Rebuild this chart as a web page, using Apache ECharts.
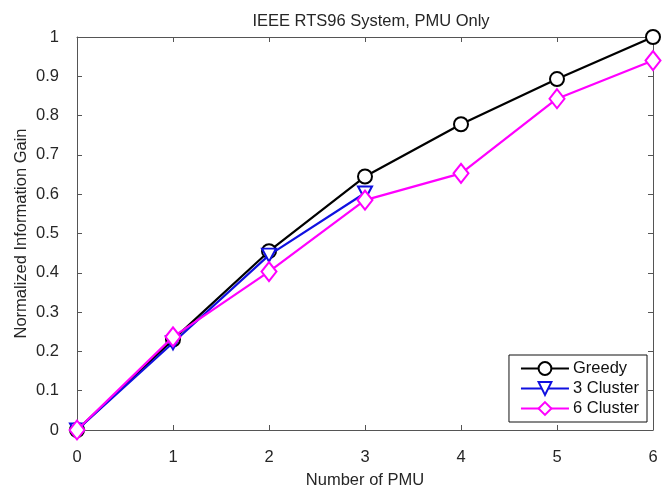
<!DOCTYPE html>
<html>
<head>
<meta charset="utf-8">
<script src="https://cdn.jsdelivr.net/npm/echarts@6/dist/echarts.min.js"></script>
<style>html,body{margin:0;padding:0;background:#fff}#c{width:669px;height:489px}</style>
</head>
<body>
<div id="c"></div>
<script>
const xValues = [0, 1, 2, 3, 4, 5, 6];
const greedy = [0, 0.23, 0.455, 0.645, 0.778, 0.893, 1.0];
const cluster3X = [0, 1, 2, 3];
const cluster3 = [0, 0.222, 0.445, 0.603];
const cluster6 = [0, 0.237, 0.403, 0.585, 0.653, 0.843, 0.94];
const titleText = 'IEEE RTS96 System, PMU Only';
const xName = 'Number of PMU';
const yName = 'Normalized Information Gain';

const font = 'Liberation Sans, Arial, sans-serif';
const fs = 16.5;
const axisColor = '#555';
const textColor = '#262626';
function pairs(xs, ys){ return xs.map((x,i)=>[x, ys[i]]); }

const chart = echarts.init(document.getElementById('c'), null, {renderer:'canvas'});
const baseAxis = {
  axisLine:{show:true, onZero:false, lineStyle:{color:axisColor, width:1}},
  axisTick:{show:true, inside:true, length:5, lineStyle:{color:axisColor}},
  splitLine:{show:false},
};
chart.setOption({
  animation:false,
  backgroundColor:'#fff',
  title:{text:titleText, left:366, top:8, textAlign:'center',
    textStyle:{fontFamily:font, fontSize:fs, fontWeight:'normal', color:textColor}},
  grid:{left:77, right:16, top:37, bottom:59, containLabel:false, outerBoundsMode:'none'},
  legend:{
    orient:'vertical', right:22, top:355,
    backgroundColor:'#fff', borderColor:'#111', borderWidth:1,
    padding:[5,8,5,11], itemGap:3, itemWidth:48, itemHeight:16,
    textStyle:{fontFamily:font, fontSize:fs, color:'#111', padding:[0,0,0,-1]},
    data:['Greedy','3 Cluster','6 Cluster']
  },
  xAxis:[
    Object.assign({}, baseAxis, {type:'value', min:0, max:6, interval:1, position:'bottom',
      name:xName, nameLocation:'middle', nameGap:42, nameMoveOverlap:false,
      nameTextStyle:{fontFamily:font, fontSize:fs, color:textColor},
      axisLabel:{fontFamily:font, fontSize:fs, color:textColor, margin:19}}),
    Object.assign({}, baseAxis, {type:'value', min:0, max:6, interval:1, position:'top',
      axisLabel:{show:false}})
  ],
  yAxis:[
    Object.assign({}, baseAxis, {type:'value', min:0, max:1, interval:0.1, position:'left',
      name:yName, nameLocation:'middle', nameGap:47, nameMoveOverlap:false,
      nameTextStyle:{fontFamily:font, fontSize:fs, color:textColor},
      axisLabel:{fontFamily:font, fontSize:fs, color:textColor, margin:18,
        formatter:v=>String(Math.round(v*10)/10)}}),
    Object.assign({}, baseAxis, {type:'value', min:0, max:1, interval:0.1, position:'right',
      axisLabel:{show:false}})
  ],
  series:[
    {name:'Greedy', type:'line', data:pairs(xValues, greedy),
      symbol:'emptyCircle', symbolSize:14, showAllSymbol:true,
      lineStyle:{color:'#000', width:2.2}, itemStyle:{color:'#000', borderWidth:2.2}, z:3},
    {name:'3 Cluster', type:'line', data:pairs(cluster3X, cluster3),
      symbol:'emptyTriangle', symbolSize:[14,13], symbolRotate:180,
      lineStyle:{color:'#1010e0', width:2.2}, itemStyle:{color:'#1010e0', borderWidth:2.2}, z:4},
    {name:'6 Cluster', type:'line', data:pairs(xValues, cluster6),
      symbol:'emptyDiamond', symbolSize:[15,19],
      lineStyle:{color:'#ff00ff', width:2.2}, itemStyle:{color:'#ff00ff', borderWidth:2.2}, z:5}
  ]
});
</script>
</body>
</html>
